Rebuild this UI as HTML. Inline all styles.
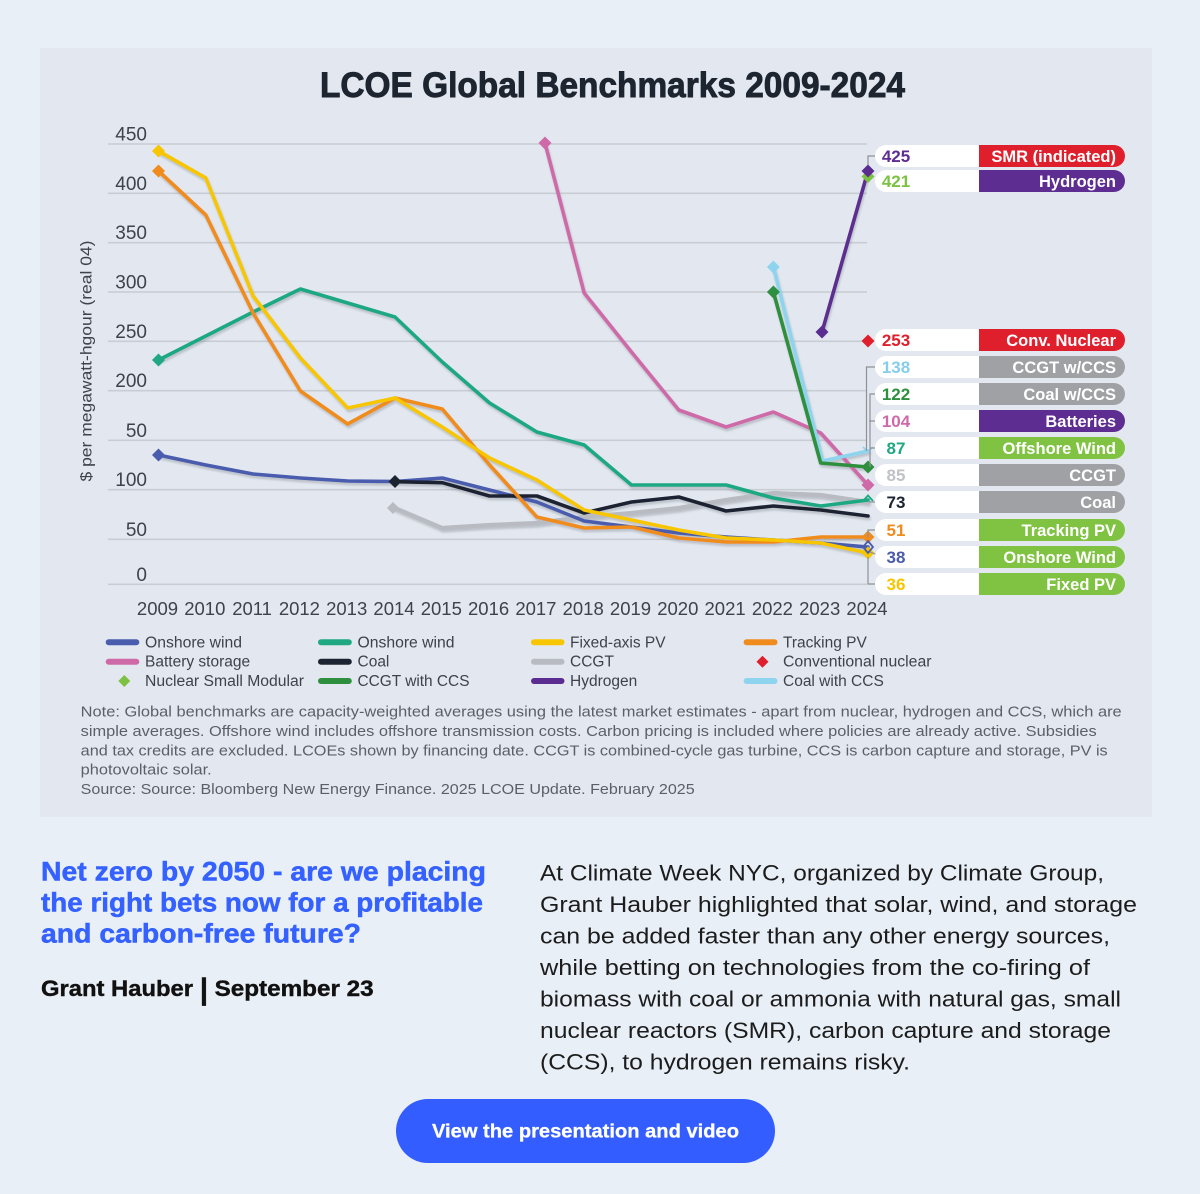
<!DOCTYPE html>
<html><head><meta charset="utf-8"><style>
html,body{margin:0;padding:0;background:#e9eff7;}
svg{display:block;}
text{font-family:"Liberation Sans",Arial,sans-serif;}
</style></head><body>
<svg width="1200" height="1194" viewBox="0 0 1200 1194" xmlns="http://www.w3.org/2000/svg">
<defs>
<filter id="sh" x="-10%" y="-10%" width="120%" height="130%">
<feDropShadow dx="1" dy="2.5" stdDeviation="1" flood-color="#7d828c" flood-opacity="0.4"/>
</filter>
</defs>
<rect x="0" y="0" width="1200" height="1194" fill="#e9eff7"/>
<rect x="40" y="48" width="1112" height="769" fill="#e3e8f0"/>

<!-- Title -->
<text x="320" y="97" font-size="35" font-weight="bold" fill="#1d2530" stroke="#1d2530" stroke-width="0.9" textLength="585" lengthAdjust="spacingAndGlyphs">LCOE Global Benchmarks 2009-2024</text>

<!-- gridlines -->
<g stroke="#c8ccd3" stroke-width="1.6">
<line x1="108" y1="144" x2="867" y2="144"/>
<line x1="108" y1="193.3" x2="867" y2="193.3"/>
<line x1="108" y1="242.7" x2="867" y2="242.7"/>
<line x1="108" y1="292" x2="867" y2="292"/>
<line x1="108" y1="341.3" x2="867" y2="341.3"/>
<line x1="108" y1="390.7" x2="867" y2="390.7"/>
<line x1="108" y1="440.3" x2="867" y2="440.3"/>
<line x1="108" y1="489.7" x2="867" y2="489.7"/>
<line x1="108" y1="539.3" x2="867" y2="539.3"/>
<line x1="108" y1="584.3" x2="867" y2="584.3"/>
</g>
<g font-size="19" fill="#3d424b" text-anchor="end">
<text x="147" y="140.5">450</text>
<text x="147" y="189.8">400</text>
<text x="147" y="239.2">350</text>
<text x="147" y="288.5">300</text>
<text x="147" y="337.8">250</text>
<text x="147" y="387.2">200</text>
<text x="147" y="436.8">50</text>
<text x="147" y="486.2">100</text>
<text x="147" y="535.8">50</text>
<text x="147" y="580.8">0</text>
</g>
<text transform="translate(91.5,361) rotate(-90)" text-anchor="middle" font-size="16" fill="#3d424b" textLength="241" lengthAdjust="spacingAndGlyphs">$ per megawatt-hgour (real 04)</text>

<!-- x labels -->
<g font-size="18.5" fill="#3d424b" text-anchor="middle">
<text x="157.5" y="615">2009</text>
<text x="204.8" y="615">2010</text>
<text x="252.1" y="615">2011</text>
<text x="299.4" y="615">2012</text>
<text x="346.7" y="615">2013</text>
<text x="394" y="615">2014</text>
<text x="441.3" y="615">2015</text>
<text x="488.6" y="615">2016</text>
<text x="535.9" y="615">2017</text>
<text x="583.2" y="615">2018</text>
<text x="630.5" y="615">2019</text>
<text x="677.8" y="615">2020</text>
<text x="725.1" y="615">2021</text>
<text x="772.4" y="615">2022</text>
<text x="819.7" y="615">2023</text>
<text x="867" y="615">2024</text>
</g>

<!-- series -->
<g fill="none" stroke-width="3.6" stroke-linejoin="round" stroke-linecap="round" filter="url(#sh)">
<polyline stroke="#b8bbc1" stroke-width="4.2" points="395,508 442.3,528 489.6,525 536.9,523 584.2,517 631.5,513 678.8,508 726.1,500 773.4,493 820.7,495 868,502"/>
<polyline stroke="#4a5cad" points="158.5,455 205.8,465 253.1,474 300.4,478 347.7,481 395,481.5 442.3,478 489.6,490 536.9,502 584.2,521 631.5,527 678.8,533 726.1,537 773.4,540 820.7,543 868,547"/>
<polyline stroke="#1b2430" points="395,481.7 442.3,482.7 489.6,496 536.9,496 584.2,513 631.5,502 678.8,497 726.1,511 773.4,506 820.7,510 868,516"/>
<polyline stroke="#1fa882" points="158.5,360 205.8,336 253.1,312 300.4,289 347.7,303 395,317 442.3,362 489.6,403 536.9,432 584.2,445 631.5,485 678.8,485 726.1,485 773.4,498 820.7,506 868,500"/>
<polyline stroke="#f08c1e" points="158.5,171 205.8,215 253.1,313 300.4,391 347.7,424 395,398 442.3,409 489.6,465 536.9,517 584.2,528 631.5,527 678.8,538 726.1,542 773.4,542 820.7,537 868,537"/>
<polyline stroke="#f7c600" points="158.5,151 205.8,178 253.1,296 300.4,358 347.7,408 395,398 442.3,427 489.6,458 536.9,480 584.2,510 631.5,520 678.8,530 726.1,538 773.4,540 820.7,543 868,553"/>
<polyline stroke="#cf6aa9" points="545,143 584.2,293 631.5,352 678.8,410 726.1,427 773.4,412 820.7,433 868,485"/>
<polyline stroke="#8fd4ef" points="773.4,267 822.5,461 868,451"/>
<polyline stroke="#2e8f3e" points="773.4,292 820.7,463 868,467"/>
<polyline stroke="#5c2d90" points="822,332 868,171"/>
</g>

<!-- markers -->
<g>
<path d="M158.5,448.5 L165,455 L158.5,461.5 L152,455 Z" fill="#4a5cad"/>
<path d="M158.5,353.5 L165,360 L158.5,366.5 L152,360 Z" fill="#1fa882"/>
<path d="M158.5,144.5 L165,151 L158.5,157.5 L152,151 Z" fill="#f7c600"/>
<path d="M158.5,164.5 L165,171 L158.5,177.5 L152,171 Z" fill="#f08c1e"/>
<path d="M395,475 L401.5,481.5 L395,488 L388.5,481.5 Z" fill="#1b2430"/>
<path d="M393,502 L399,508 L393,514 L387,508 Z" fill="#b8bbc1"/>
<path d="M545,136.5 L551.5,143 L545,149.5 L538.5,143 Z" fill="#cf6aa9"/>
<path d="M773.4,260.5 L779.9,267 L773.4,273.5 L766.9,267 Z" fill="#8fd4ef"/>
<path d="M773.4,285.5 L779.9,292 L773.4,298.5 L766.9,292 Z" fill="#2e8f3e"/>
<path d="M822,325.5 L828.5,332 L822,338.5 L815.5,332 Z" fill="#5c2d90"/>
<path d="M868,170 L874.5,176.5 L868,183 L861.5,176.5 Z" fill="#7cc242"/>
<path d="M868,164.5 L874.5,171 L868,177.5 L861.5,171 Z" fill="#5c2d90"/>
<path d="M868,334.5 L874.5,341 L868,347.5 L861.5,341 Z" fill="#e01f2d"/>
<path d="M868,478.5 L874.5,485 L868,491.5 L861.5,485 Z" fill="#cf6aa9"/>
<path d="M868,460.5 L874.5,467 L868,473.5 L861.5,467 Z" fill="#2e8f3e"/>
<path d="M868,530.5 L874.5,537 L868,543.5 L861.5,537 Z" fill="#f08c1e"/>
<path d="M868,546.5 L874.5,553 L868,559.5 L861.5,553 Z" fill="#f7c600"/>
<path d="M868,541 L873,547 L868,553 L863,547 Z" fill="none" stroke="#4a5cad" stroke-width="1.8"/>
<path d="M863,501 L868,495.5 L873,501" fill="none" stroke="#1fa882" stroke-width="1.8"/>
<path d="M863,447 L868,452 L873,447" fill="none" stroke="#8fd4ef" stroke-width="1.8"/>
</g>

<!-- connectors -->
<g fill="none" stroke="#8e9197" stroke-width="1.2">
<polyline points="876,156 868,156 868,165"/>
<polyline points="876,367 866.5,367 866.5,451"/>
<polyline points="876,394 870,394 870,467"/>
<polyline points="876,421 869,421"/>
<polyline points="876,448 870,448"/>
<polyline points="876,502 869,502"/>
<polyline points="876,530 868,530 868,537"/>
<polyline points="870,552 883,557"/>
<polyline points="868,557 868,584 876,584"/>
</g>

<!-- pills -->
<g>
<rect x="875" y="145" width="250" height="22" rx="11" fill="#ffffff"/><path d="M979,145 H1114 A11,11 0 0 1 1114,167 H979 Z" fill="#e01f2d"/>
<rect x="875" y="170" width="250" height="22" rx="11" fill="#ffffff"/><path d="M979,170 H1114 A11,11 0 0 1 1114,192 H979 Z" fill="#5e2d91"/>
<rect x="875" y="329" width="250" height="22" rx="11" fill="#ffffff"/><path d="M979,329 H1114 A11,11 0 0 1 1114,351 H979 Z" fill="#e01f2d"/>
<rect x="875" y="356" width="250" height="22" rx="11" fill="#ffffff"/><path d="M979,356 H1114 A11,11 0 0 1 1114,378 H979 Z" fill="#a0a1a5"/>
<rect x="875" y="383" width="250" height="22" rx="11" fill="#ffffff"/><path d="M979,383 H1114 A11,11 0 0 1 1114,405 H979 Z" fill="#a0a1a5"/>
<rect x="875" y="410" width="250" height="22" rx="11" fill="#ffffff"/><path d="M979,410 H1114 A11,11 0 0 1 1114,432 H979 Z" fill="#5e2d91"/>
<rect x="875" y="437" width="250" height="22" rx="11" fill="#ffffff"/><path d="M979,437 H1114 A11,11 0 0 1 1114,459 H979 Z" fill="#80c241"/>
<rect x="875" y="464" width="250" height="22" rx="11" fill="#ffffff"/><path d="M979,464 H1114 A11,11 0 0 1 1114,486 H979 Z" fill="#a0a1a5"/>
<rect x="875" y="491" width="250" height="22" rx="11" fill="#ffffff"/><path d="M979,491 H1114 A11,11 0 0 1 1114,513 H979 Z" fill="#a0a1a5"/>
<rect x="875" y="519" width="250" height="22" rx="11" fill="#ffffff"/><path d="M979,519 H1114 A11,11 0 0 1 1114,541 H979 Z" fill="#80c241"/>
<rect x="875" y="546" width="250" height="22" rx="11" fill="#ffffff"/><path d="M979,546 H1114 A11,11 0 0 1 1114,568 H979 Z" fill="#80c241"/>
<rect x="875" y="573" width="250" height="22" rx="11" fill="#ffffff"/><path d="M979,573 H1114 A11,11 0 0 1 1114,595 H979 Z" fill="#80c241"/>
</g>
<g font-size="17" font-weight="bold" text-anchor="middle">
<text x="896" y="162" fill="#5e2d91">425</text>
<text x="896" y="187" fill="#7cc242">421</text>
<text x="896" y="346" fill="#e01f2d">253</text>
<text x="896" y="373" fill="#86cdec">138</text>
<text x="896" y="400" fill="#2e8f3e">122</text>
<text x="896" y="427" fill="#cf6aa9">104</text>
<text x="896" y="454" fill="#1fa882">87</text>
<text x="896" y="481" fill="#c0c2c7">85</text>
<text x="896" y="508" fill="#1b2430">73</text>
<text x="896" y="536" fill="#f08c1e">51</text>
<text x="896" y="563" fill="#4a5cad">38</text>
<text x="896" y="590" fill="#f7c600">36</text>
</g>
<g font-size="16.5" font-weight="bold" text-anchor="end" fill="#ffffff">
<text x="1116" y="162">SMR (indicated)</text>
<text x="1116" y="187">Hydrogen</text>
<text x="1116" y="346">Conv. Nuclear</text>
<text x="1116" y="373">CCGT w/CCS</text>
<text x="1116" y="400">Coal w/CCS</text>
<text x="1116" y="427">Batteries</text>
<text x="1116" y="454">Offshore Wind</text>
<text x="1116" y="481">CCGT</text>
<text x="1116" y="508">Coal</text>
<text x="1116" y="536">Tracking PV</text>
<text x="1116" y="563">Onshore Wind</text>
<text x="1116" y="590">Fixed PV</text>
</g>

<!-- legend -->
<g stroke-width="6" stroke-linecap="round">
<line x1="108.7" y1="642.3" x2="136.3" y2="642.3" stroke="#4a5cad"/>
<line x1="321" y1="642.3" x2="348.8" y2="642.3" stroke="#1fa882"/>
<line x1="534" y1="642.3" x2="561.5" y2="642.3" stroke="#f7c600"/>
<line x1="746.6" y1="642.3" x2="774.5" y2="642.3" stroke="#f08c1e"/>
<line x1="108.7" y1="661.7" x2="136.3" y2="661.7" stroke="#cf6aa9"/>
<line x1="321" y1="661.7" x2="348.8" y2="661.7" stroke="#1b2430"/>
<line x1="534" y1="661.7" x2="561.5" y2="661.7" stroke="#b8bbc1"/>
<line x1="321" y1="681" x2="348.8" y2="681" stroke="#2e8f3e"/>
<line x1="534" y1="681" x2="561.5" y2="681" stroke="#5c2d90"/>
<line x1="746.6" y1="681" x2="774.5" y2="681" stroke="#8fd4ef"/>
</g>
<path d="M762.5,655.7 L768.5,661.7 L762.5,667.7 L756.5,661.7 Z" fill="#e01f2d"/>
<path d="M124.3,675 L130.3,681 L124.3,687 L118.3,681 Z" fill="#7cc242"/>
<g font-size="15.5" fill="#3d424b">
<text x="145" y="647.3" textLength="97" lengthAdjust="spacingAndGlyphs">Onshore wind</text>
<text x="357.5" y="647.3" textLength="97" lengthAdjust="spacingAndGlyphs">Onshore wind</text>
<text x="570" y="647.3">Fixed-axis PV</text>
<text x="783" y="647.3">Tracking PV</text>
<text x="145" y="666.7">Battery storage</text>
<text x="357.5" y="666.7">Coal</text>
<text x="570" y="666.7">CCGT</text>
<text x="783" y="666.7" textLength="148.5" lengthAdjust="spacingAndGlyphs">Conventional nuclear</text>
<text x="145" y="686" textLength="159" lengthAdjust="spacingAndGlyphs">Nuclear Small Modular</text>
<text x="357.5" y="686" textLength="112" lengthAdjust="spacingAndGlyphs">CCGT with CCS</text>
<text x="570" y="686">Hydrogen</text>
<text x="783" y="686">Coal with CCS</text>
</g>

<!-- note -->
<g font-size="15" fill="#5a5f68">
<text x="80.7" y="716.7" textLength="1041" lengthAdjust="spacingAndGlyphs">Note: Global benchmarks are capacity-weighted averages using the latest market estimates - apart from nuclear, hydrogen and CCS, which are</text>
<text x="80.7" y="736" textLength="1016" lengthAdjust="spacingAndGlyphs">simple averages. Offshore wind includes offshore transmission costs. Carbon pricing is included where policies are already active. Subsidies</text>
<text x="80.7" y="755.3" textLength="1027" lengthAdjust="spacingAndGlyphs">and tax credits are excluded. LCOEs shown by financing date. CCGT is combined-cycle gas turbine, CCS is carbon capture and storage, PV is</text>
<text x="80.7" y="774.7" textLength="131" lengthAdjust="spacingAndGlyphs">photovoltaic solar.</text>
<text x="80.7" y="794" textLength="614" lengthAdjust="spacingAndGlyphs">Source: Source: Bloomberg New Energy Finance. 2025 LCOE Update. February 2025</text>
</g>

<!-- heading -->
<g font-size="27" font-weight="bold" fill="#3461ff" stroke="#3461ff" stroke-width="0.5">
<text x="41" y="880.7" textLength="445" lengthAdjust="spacingAndGlyphs">Net zero by 2050 - are we placing</text>
<text x="41" y="911.5" textLength="442" lengthAdjust="spacingAndGlyphs">the right bets now for a profitable</text>
<text x="41" y="942.3" textLength="320" lengthAdjust="spacingAndGlyphs">and carbon-free future?</text>
</g>
<g font-size="22" font-weight="bold" fill="#111111" stroke="#111111" stroke-width="0.4">
<text x="41" y="996" textLength="152" lengthAdjust="spacingAndGlyphs">Grant Hauber</text>
<text x="204" y="999" font-size="30" font-weight="bold" text-anchor="middle">|</text>
<text x="214.6" y="996" textLength="159" lengthAdjust="spacingAndGlyphs">September 23</text>
</g>

<!-- paragraph -->
<g font-size="22.5" fill="#1c1c1c">
<text x="540" y="880.7" textLength="564" lengthAdjust="spacingAndGlyphs">At Climate Week NYC, organized by Climate Group,</text>
<text x="540" y="912.2" textLength="597" lengthAdjust="spacingAndGlyphs">Grant Hauber highlighted that solar, wind, and storage</text>
<text x="540" y="943.7" textLength="570" lengthAdjust="spacingAndGlyphs">can be added faster than any other energy sources,</text>
<text x="540" y="975.2" textLength="550" lengthAdjust="spacingAndGlyphs">while betting on technologies from the co-firing of</text>
<text x="540" y="1006.7" textLength="581" lengthAdjust="spacingAndGlyphs">biomass with coal or ammonia with natural gas, small</text>
<text x="540" y="1038.2" textLength="571" lengthAdjust="spacingAndGlyphs">nuclear reactors (SMR), carbon capture and storage</text>
<text x="540" y="1069.7" textLength="370" lengthAdjust="spacingAndGlyphs">(CCS), to hydrogen remains risky.</text>
</g>

<!-- button -->
<rect x="396" y="1099" width="379" height="64" rx="32" fill="#335dff"/>
<text x="585.5" y="1137.5" font-size="19" font-weight="bold" fill="#ffffff" stroke="#ffffff" stroke-width="0.3" text-anchor="middle" textLength="307" lengthAdjust="spacingAndGlyphs">View the presentation and video</text>
</svg>
</body></html>
